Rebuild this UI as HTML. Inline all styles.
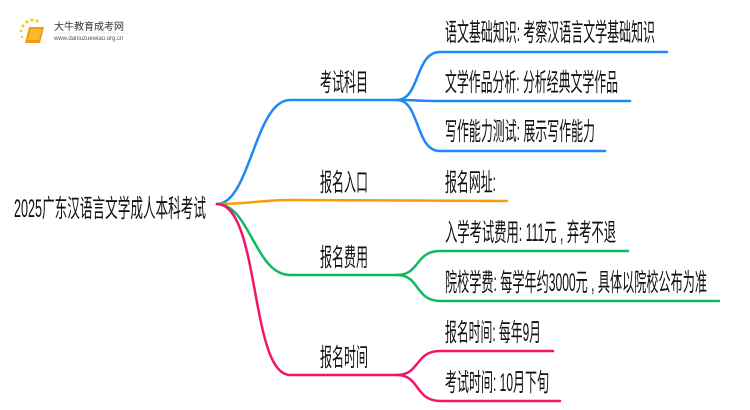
<!DOCTYPE html>
<html><head><meta charset="utf-8"><style>
html,body{margin:0;padding:0;background:#fff;width:750px;height:410px;overflow:hidden}
svg{display:block}
text{font-family:"Liberation Sans","Noto Sans CJK SC",sans-serif;fill:#111}
</style></head><body>
<svg width="750" height="410" viewBox="0 0 750 410" xmlns="http://www.w3.org/2000/svg">
<g fill="none" stroke-width="2.5" stroke-linecap="round">
<path d="M217 204 C250 204 255 100 290 100 L397 100" stroke="#1e88f5"/>
<path d="M397 100 C420 100 415 52 440 52 L667 52" stroke="#1e88f5"/>
<path d="M397 100 C420 100 415 101 440 101 L630 101" stroke="#1e88f5"/>
<path d="M397 100 C420 100 415 151 440 151 L605 151" stroke="#1e88f5"/>
<path d="M217 204 C250 204 260 200 290 200 L507 201" stroke="#f5a000"/>
<path d="M217 204 C250 204 255 275 290 275 L397 275" stroke="#10b860"/>
<path d="M397 275 C420 275 415 251 440 251 L628 251" stroke="#10b860"/>
<path d="M397 275 C420 275 415 301 440 301 L719 301" stroke="#10b860"/>
<path d="M217 204 C260 204 250 375 290 375 L397 375" stroke="#f5126a"/>
<path d="M397 375 C420 375 415 351 440 351 L553 351" stroke="#f5126a"/>
<path d="M397 375 C420 375 415 401 440 401 L560 401" stroke="#f5126a"/>
</g>
<text x="14" y="217" font-size="25" textLength="192" lengthAdjust="spacingAndGlyphs">2025广东汉语言文学成人本科考试</text>
<g font-size="25">
<text x="320" y="91" textLength="48" lengthAdjust="spacingAndGlyphs">考试科目</text>
<text x="320" y="191" textLength="48" lengthAdjust="spacingAndGlyphs">报名入口</text>
<text x="320" y="266" textLength="48" lengthAdjust="spacingAndGlyphs">报名费用</text>
<text x="320" y="366" textLength="48" lengthAdjust="spacingAndGlyphs">报名时间</text>
<text x="445" y="41" textLength="210" lengthAdjust="spacingAndGlyphs">语文基础知识: 考察汉语言文学基础知识</text>
<text x="445" y="91" textLength="173" lengthAdjust="spacingAndGlyphs">文学作品分析: 分析经典文学作品</text>
<text x="445" y="140" textLength="150" lengthAdjust="spacingAndGlyphs">写作能力测试: 展示写作能力</text>
<text x="445" y="191" textLength="51" lengthAdjust="spacingAndGlyphs">报名网址:</text>
<text x="445" y="241" textLength="171" lengthAdjust="spacingAndGlyphs">入学考试费用: 111元 , 弃考不退</text>
<text x="445" y="291" textLength="262" lengthAdjust="spacingAndGlyphs">院校学费: 每学年约3000元 , 具体以院校公布为准</text>
<text x="445" y="341" textLength="96" lengthAdjust="spacingAndGlyphs">报名时间: 每年9月</text>
<text x="445" y="391" textLength="104" lengthAdjust="spacingAndGlyphs">考试时间: 10月下旬</text>
</g>
<g>
<circle cx="23" cy="26" r="1.6" fill="#f8c838"/><circle cx="27" cy="22" r="1.6" fill="#f8c838"/><circle cx="32" cy="20" r="1.6" fill="#f8c838"/><circle cx="37" cy="21" r="1.6" fill="#f8c838"/><circle cx="21" cy="31" r="1.4" fill="#f8c838"/><circle cx="22" cy="37" r="1.2" fill="#f8c838"/>
<path d="M29 27 L44 27 L40 43 L25 43 Z" fill="#f29a10"/>
<path d="M31 29 L42 29 L39 40 L28 40 Z" fill="#fbb830"/>
<text x="54" y="30" font-size="10" style="fill:#333">大牛教育成考网</text>
<text x="54" y="40" font-size="6" style="fill:#555">www.daniuzuewiao.org.cn</text>
<line x1="54" y1="33" x2="130" y2="33" stroke="#ddd" stroke-width="0.6"/>
</g>
</svg>
</body></html>
